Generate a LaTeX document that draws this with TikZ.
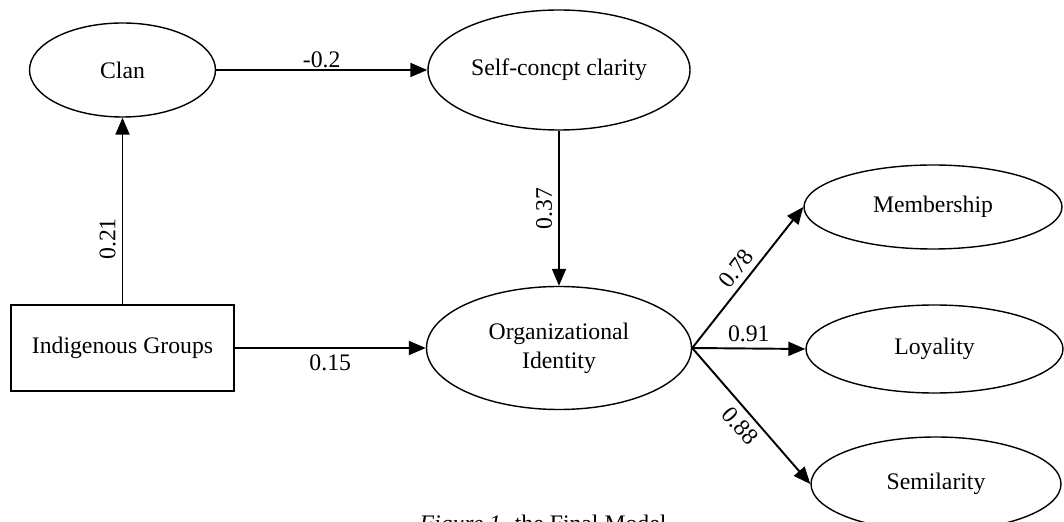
\documentclass[tikz,border=0pt]{standalone}
\usepackage{fontspec}
\setmainfont{Liberation Serif}
\usepackage{tikz}
\usetikzlibrary{shapes.geometric}
\usetikzlibrary{arrows.meta}

\begin{document}
\begin{tikzpicture}[>={Triangle[length=0.34cm,width=0.28cm]},
  font=\fontsize{13.5}{16.5}\selectfont,
  latent/.style={draw, ellipse, line width=0.8pt, inner sep=0pt},
  observed/.style={draw, rectangle, line width=0.8pt, inner sep=0pt},
  effect/.style={->, line width=1.1pt}]
\useasboundingbox (0,0) rectangle (21.28,10.42);
\node[latent, minimum width=3.72cm, minimum height=1.88cm] (clan) at (2.45,9.02) {Clan};
\node[latent, minimum width=5.24cm, minimum height=2.4cm] (self) at (11.18,9.02) {Self-concpt clarity};
\node[observed, minimum width=4.46cm, minimum height=1.72cm] (grp) at (2.45,3.46) {Indigenous Groups};
\node[latent, minimum width=5.3cm, minimum height=2.46cm, align=center] (org) at (11.18,3.46) {Organizational\\Identity};
\node[latent, minimum width=5.16cm, minimum height=1.68cm] (mem) at (18.66,6.28) {Membership};
\node[latent, minimum width=5.14cm, minimum height=1.76cm] (loy) at (18.69,3.44) {Loyality};
\node[latent, minimum width=5.0cm, minimum height=1.88cm] (sem) at (18.72,0.74) {Semilarity};
\node[anchor=base] (cap) at (10.86,-0.2) {\textit{Figure 1.} the Final Model};

\draw[effect] (clan) -- node[above, inner sep=0.5pt] {-0.2} (self);
\draw[effect] (grp) -- node[pos=0.35, rotate=90, anchor=south] {0.21} (clan);
\draw[effect] (self) -- node[rotate=90, anchor=south] {0.37} (org);
\draw[effect] (grp) -- node[below] {0.15} (org);
\draw[effect] (org.east) -- node[above, sloped] {0.78} (mem.west);
\draw[effect] (org.east) -- node[above] {0.91} (loy.west);
\draw[effect] (org.east) -- node[below, sloped] {0.88} (sem.west);
\end{tikzpicture}
\end{document}
